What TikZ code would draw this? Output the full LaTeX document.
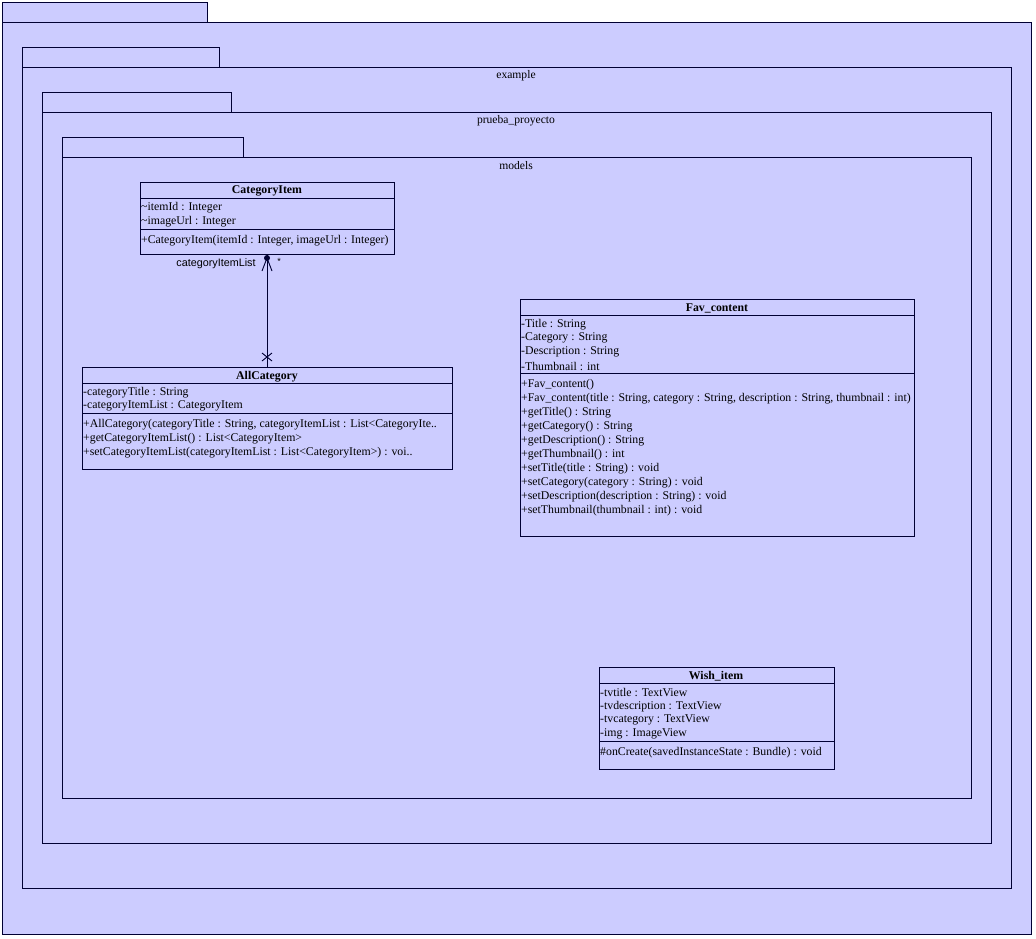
\documentclass[tikz,border=0pt]{standalone}
\usepackage{fontspec}
\setmainfont{Liberation Serif}
\newfontfamily\labelsans{Liberation Sans}
\definecolor{pkgfill}{HTML}{CCCCFF}
\definecolor{linec}{HTML}{000033}
\begin{document}
\begin{tikzpicture}[x=1pt,y=-1pt,
  pkg/.style={draw=linec, fill=pkgfill, line width=1pt},
  cls/.style={draw=linec, fill=pkgfill, line width=0.9pt, anchor=north west, inner sep=0pt},
  sep/.style={draw=linec, line width=0.9pt},
  mem/.style={anchor=west, inner sep=0pt, yshift=-1.2pt, font=\fontsize{11.8}{13}\selectfont},
  ttl/.style={anchor=center, inner sep=0pt, yshift=-1.2pt, font=\fontsize{11.8}{13}\selectfont\bfseries},
  plabel/.style={anchor=center, inner sep=0pt, yshift=-1pt, font=\fontsize{11.6}{13}\selectfont},
  assoc/.style={draw=linec, line width=0.9pt}]
\useasboundingbox (0,0) rectangle (1036,938);
\fill[white] (0,0) rectangle (1036,938);
% packages
\draw[pkg] (2,2) rectangle (207,22);
\draw[pkg] (2,22) rectangle (1031,934);
\draw[pkg] (22,47) rectangle (219,67);
\draw[pkg] (22,67) rectangle (1011,888);
\node[plabel] (pex) at (516,75) {example};
\draw[pkg] (42,92) rectangle (231,112);
\draw[pkg] (42,112) rectangle (991,843);
\node[plabel] (ppr) at (516,120) {prueba\_proyecto};
\draw[pkg] (62,137) rectangle (243,157);
\draw[pkg] (62,157) rectangle (971,798);
\node[plabel] (pmo) at (516,165) {models};

% CategoryItem
\node[cls, minimum width=254pt, minimum height=72pt] (ci) at (140,182) {};
\node[ttl] (cit) at (267,190) {CategoryItem};
\draw[sep] (140,198) -- (394,198);
\node[mem] (ci1) at (141,206) {\textasciitilde itemId : Integer};
\node[mem] (ci2) at (141,220) {\textasciitilde imageUrl : Integer};
\draw[sep] (140,229) -- (394,229);
\node[mem] (ci3) at (141,239) {+CategoryItem(itemId : Integer, imageUrl : Integer)};

% AllCategory
\node[cls, minimum width=370pt, minimum height=102pt] (ac) at (82,367) {};
\node[ttl] (act) at (267,375) {AllCategory};
\draw[sep] (82,383) -- (452,383);
\node[mem] (ac1) at (83,391) {-categoryTitle : String};
\node[mem] (ac2) at (83,405) {-categoryItemList : CategoryItem};
\draw[sep] (82,413) -- (452,413);
\node[mem] (ac3) at (83,423) {+AllCategory(categoryTitle : String, categoryItemList : List<CategoryIte..};
\node[mem] (ac4) at (83,437) {+getCategoryItemList() : List<CategoryItem>};
\node[mem] (ac5) at (83,451) {+setCategoryItemList(categoryItemList : List<CategoryItem>) : voi..};

% Fav_content
\node[cls, minimum width=394pt, minimum height=237pt] (fc) at (520,299) {};
\node[ttl] (fct) at (717,307) {Fav\_content};
\draw[sep] (520,315) -- (914,315);
\node[mem] (fa1) at (521,323) {-Title : String};
\node[mem] (fa2) at (521,337) {-Category : String};
\node[mem] (fa3) at (521,351) {-Description : String};
\node[mem] (fa4) at (521,365) {-Thumbnail : int};
\draw[sep] (520,373) -- (914,373);
\node[mem] (fm1) at (521,383) {+Fav\_content()};
\node[mem] (fm2) at (521,397) {+Fav\_content(title : String, category : String, description : String, thumbnail : int)};
\node[mem] (fm3) at (521,411) {+getTitle() : String};
\node[mem] (fm4) at (521,425) {+getCategory() : String};
\node[mem] (fm5) at (521,439) {+getDescription() : String};
\node[mem] (fm6) at (521,453) {+getThumbnail() : int};
\node[mem] (fm7) at (521,467) {+setTitle(title : String) : void};
\node[mem] (fm8) at (521,481) {+setCategory(category : String) : void};
\node[mem] (fm9) at (521,495) {+setDescription(description : String) : void};
\node[mem] (fm10) at (521,509) {+setThumbnail(thumbnail : int) : void};

% Wish_item
\node[cls, minimum width=235pt, minimum height=102pt] (wi) at (599,667) {};
\node[ttl] (wit) at (716,675) {Wish\_item};
\draw[sep] (599,683) -- (834,683);
\node[mem] (wa1) at (600,691) {-tvtitle : TextView};
\node[mem] (wa2) at (600,705) {-tvdescription : TextView};
\node[mem] (wa3) at (600,719) {-tvcategory : TextView};
\node[mem] (wa4) at (600,733) {-img : ImageView};
\draw[sep] (599,741) -- (834,741);
\node[mem] (wm1) at (600,751) {\#onCreate(savedInstanceState : Bundle) : void};

% association
\coordinate (top) at (267,258);
\coordinate (bot) at (267,367);
\draw[assoc] (ci.south) -- (ac.north);
\fill[linec] (top) circle (3pt);
\draw[assoc] (262,271) -- (top) -- (272,271);
\draw[assoc] (262,353) -- (272,361);
\draw[assoc] (262,361) -- (272,353);
\node[anchor=center, inner sep=0pt, font=\labelsans\fontsize{10.8}{12}\selectfont] (rl) at (216,264) {categoryItemList};
\node[anchor=center, inner sep=0pt, font=\labelsans\fontsize{9}{10}\selectfont] (rm) at (279,261) {*};
\end{tikzpicture}
\end{document}
